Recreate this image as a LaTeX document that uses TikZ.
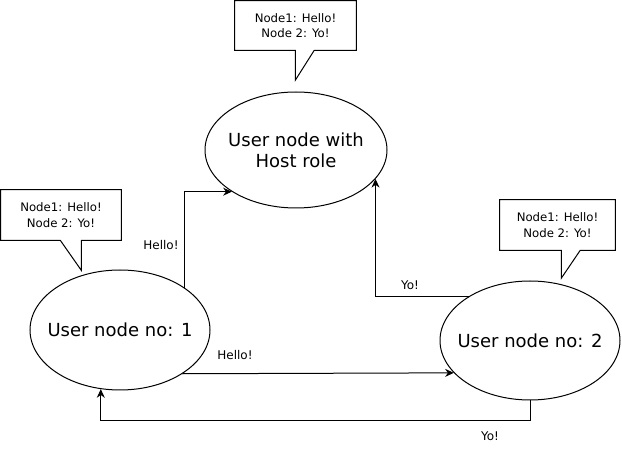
\documentclass[tikz,border=0pt]{standalone}
\usepackage{fontspec}
\setmainfont{DejaVu Sans}
\usetikzlibrary{arrows.meta,shapes.geometric}

\tikzset{
  usernode/.style={ellipse, draw, line width=0.75pt, inner sep=0pt},
  usertext/.style={align=center, inner sep=0pt,
    font=\fontsize{13.5}{15.75}\selectfont},
  bubbletext/.style={inner sep=0pt, align=center,
    font=\fontsize{8.8}{11.5}\selectfont},
  bubbleline/.style={draw, line width=0.75pt, line join=miter},
  msg/.style={draw, line width=0.75pt, -{Stealth[length=6.5pt,width=6pt]}},
  msglabel/.style={inner sep=0pt, font=\fontsize{9}{10}\selectfont},
}

\begin{document}
\begin{tikzpicture}[x=0.75pt, y=-0.75pt]
  \useasboundingbox (0,0) rectangle (622,452);

  % the three participants
  \node[usernode, minimum width=182*0.75pt, minimum height=116*0.75pt,
        label={[usertext]center:User node with\\Host role}] (host) at (296,150) {};
  \node[usernode, minimum width=180*0.75pt, minimum height=120*0.75pt,
        label={[usertext]center:User node no: 1}] (n1) at (120,330) {};
  \node[usernode, minimum width=180*0.75pt, minimum height=119*0.75pt,
        label={[usertext]center:User node no: 2}] (n2) at (530,340.5) {};

  % speech bubbles with the chat log
  \node[bubbletext, minimum width=121*0.75pt, minimum height=49*0.75pt] (c0) at (295.5,25.5)
    {Node1: Hello!\\Node 2: Yo!};
  \draw[bubbleline] (c0.north west) -- (c0.north east) -- (c0.south east)
    -- ++(-42,0) -- ++(-19,30) -- ++(0,-30) -- (c0.south west) -- cycle;

  \node[bubbletext, minimum width=120*0.75pt, minimum height=50*0.75pt] (c1) at (61,215)
    {Node1: Hello!\\Node 2: Yo!};
  \draw[bubbleline] (c1.north west) -- (c1.north east) -- (c1.south east)
    -- ++(-40,0) -- ++(0,30) -- ++(-21,-30) -- (c1.south west) -- cycle;

  \node[bubbletext, minimum width=115*0.75pt, minimum height=50*0.75pt] (c2) at (557.5,225)
    {Node1: Hello!\\Node 2: Yo!};
  \draw[bubbleline] (c2.north west) -- (c2.north east) -- (c2.south east)
    -- ++(-35,0) -- ++(-19,28) -- ++(0,-28) -- (c2.south west) -- cycle;

  % messages
  \draw[msg] (n1.33.4) |- (host.213.9);
  \draw[msg] (n2.144.1) -| (host.340.5);
  \draw[msg] (n1.325.7) -- (n2.203.3);
  \draw[msg] (n2.south) -- ++(0,20) -| (n1.252);

  \node[msglabel] (l1) at (161,245) {Hello!};
  \node[msglabel] (l2) at (410,285) {Yo!};
  \node[msglabel] (l3) at (235,355) {Hello!};
  \node[msglabel] (l4) at (490,436) {Yo!};
\end{tikzpicture}
\end{document}
